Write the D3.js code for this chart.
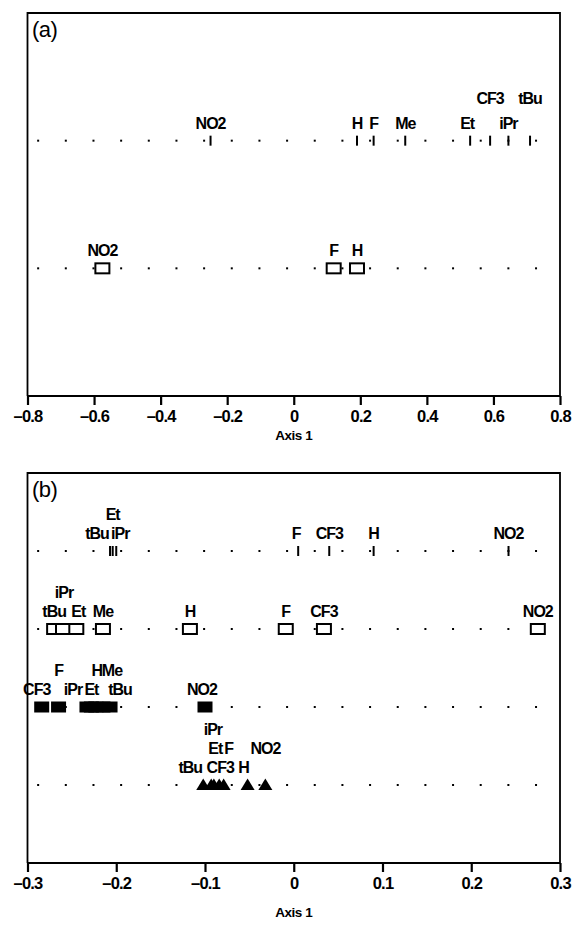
<!DOCTYPE html>
<html><head><meta charset="utf-8">
<script src="https://cdn.jsdelivr.net/npm/d3@7"></script>
<style>
body{margin:0;background:#fff}
svg{display:block}
text{font-family:"Liberation Sans",Arial,sans-serif;fill:#000}
</style></head>
<body><svg id="chart" width="572" height="932"></svg>
<script>
// ---------- DATA ----------
const aTicks = [-0.8,-0.6,-0.4,-0.2,0,0.2,0.4,0.6,0.8];
const aTickLabels = ["\u20130.8","\u20130.6","\u20130.4","\u20130.2","0","0.2","0.4","0.6","0.8"];
const bTicks = [-0.3,-0.2,-0.1,0,0.1,0.2,0.3];
const bTickLabels = ["\u20130.3","\u20130.2","\u20130.1","0","0.1","0.2","0.3"];

// panel (a)
const aRow1Names  = ["NO2","H","F","Me","Et","CF3","iPr","tBu"];
const aRow1Values = [-0.25,0.19,0.24,0.335,0.53,0.59,0.645,0.71];
const aRow2Names  = ["NO2","F","H"];
const aRow2Values = [-0.575,0.12,0.19];

// panel (b)
const bRow1Names  = ["tBu","Et","iPr","F","CF3","H","NO2"];
const bRow1Values = [-0.207,-0.204,-0.200,0.005,0.040,0.090,0.242];
const bRow2Names  = ["tBu","iPr","Et","Me","H","F","CF3","NO2"];
const bRow2Values = [-0.270,-0.260,-0.245,-0.215,-0.117,-0.009,0.034,0.275];
const bRow3Names  = ["CF3","F","iPr","Et","H","Me","tBu","NO2"];
const bRow3Values = [-0.284,-0.265,-0.233,-0.228,-0.223,-0.215,-0.207,-0.100];
const bRow4Names  = ["tBu","Et","iPr","CF3","F","H","NO2"];
const bRow4Values = [-0.102,-0.093,-0.090,-0.084,-0.079,-0.052,-0.032];

// ---------- LAYOUT (label stacking level, horizontal nudge in px) ----------
const labelPlacement = {
  a1:{CF3:[1,0], tBu:[1,0], Et:[0,-3]},
  a2:{},
  b1:{tBu:[0,-13], Et:[1,0], iPr:[0,4], F:[0,-2]},
  b2:{iPr:[1,1], Et:[0,2]},
  b3:{CF3:[0,-5], F:[1,0], iPr:[0,-14], Et:[0,0], H:[1,1], Me:[1,9], tBu:[0,10], NO2:[0,-3]},
  b4:{tBu:[0,-13], Et:[1,4], iPr:[2,-1], CF3:[0,1], F:[1,5], H:[0,-4], NO2:[1,0]}
};

const panels = [
  {tag:"(a)", top:13, bottom:396, domain:[-0.8,0.8], ticks:aTicks, tickLabels:aTickLabels, levelGap:25, axisTitleGap:44,
   rows:[{key:"a1", names:aRow1Names, values:aRow1Values, marker:"tick"},
         {key:"a2", names:aRow2Names, values:aRow2Values, marker:"openBox"}]},
  {tag:"(b)", top:473, bottom:863, domain:[-0.3,0.3], ticks:bTicks, tickLabels:bTickLabels, levelGap:19, axisTitleGap:54,
   rows:[{key:"b1", names:bRow1Names, values:bRow1Values, marker:"tick"},
         {key:"b2", names:bRow2Names, values:bRow2Values, marker:"openBox"},
         {key:"b3", names:bRow3Names, values:bRow3Values, marker:"filledBox"},
         {key:"b4", names:bRow4Names, values:bRow4Values, marker:"triangle"}]}
];

const svg = d3.select("#chart");
svg.append("rect").attr("width",572).attr("height",932).attr("fill","#fff");
const left = 27.5, right = 560;

panels.forEach(p => {
  const g = svg.append("g");
  const x = d3.scaleLinear().domain(p.domain).range([left, right]);
  const y = d3.scalePoint().domain(d3.range(p.rows.length)).range([p.top, p.bottom]).padding(1);

  // frame
  g.append("path")
    .attr("d", `M${left},${p.bottom} L${left},${p.top} L${right},${p.top} L${right},${p.bottom}`)
    .attr("fill","none").attr("stroke","#000").attr("stroke-width",1.8);

  // axis
  const axis = d3.axisBottom(x).tickValues(p.ticks)
    .tickFormat((d,i) => p.tickLabels[i]).tickSize(9).tickPadding(5);
  const ax = g.append("g").attr("transform",`translate(0,${p.bottom})`).call(axis);
  ax.select(".domain").attr("stroke-width",2.2).attr("d",`M${left},0H${right}`);
  ax.selectAll(".tick line").attr("stroke-width",2.2);
  ax.selectAll(".tick text").attr("font-size",16.5).attr("font-weight","bold")
    .attr("letter-spacing","-0.8").style("font-family","'Liberation Sans',Arial,sans-serif");

  g.append("text").attr("x",(left+right)/2).attr("y",p.bottom+p.axisTitleGap)
    .attr("text-anchor","middle").attr("font-size",13.5).attr("font-weight","bold")
    .attr("letter-spacing","-0.5").text("Axis 1");

  g.append("text").attr("x",32).attr("y",p.top+24).attr("font-size",22)
    .attr("letter-spacing","-0.5").text(p.tag);

  p.rows.forEach((row, ri) => {
    const cy = y(ri);
    // dotted guide line
    const d0 = left + 0.02*(right-left), d1 = left + 0.955*(right-left);
    const dots = d3.range(19).map(i => d0 + i*(d1-d0)/18);
    g.selectAll(null).data(dots).enter().append("rect")
      .attr("x", d => d-1).attr("y", cy-1).attr("width",2).attr("height",2).attr("fill","#000");

    const data = row.names.map((n,i) => ({name:n, value:row.values[i]}));
    const m = g.selectAll(null).data(data).enter();
    if (row.marker === "tick") {
      m.append("line").attr("x1",d=>x(d.value)).attr("x2",d=>x(d.value))
        .attr("y1",cy-5).attr("y2",cy+5).attr("stroke","#000").attr("stroke-width",2);
    } else if (row.marker === "openBox") {
      m.append("rect").attr("x",d=>x(d.value)-7).attr("y",cy-5).attr("width",14).attr("height",10)
        .attr("fill","#fff").attr("stroke","#000").attr("stroke-width",2);
    } else if (row.marker === "filledBox") {
      m.append("rect").attr("x",d=>x(d.value)-7.5).attr("y",cy-5.5).attr("width",15).attr("height",11)
        .attr("fill","#000");
    } else if (row.marker === "triangle") {
      m.append("path").attr("d",d=>{const cx=x(d.value);return `M${cx-7},${cy+5}L${cx},${cy-6.5}L${cx+7},${cy+5}Z`;})
        .attr("fill","#000");
    }
    const place = labelPlacement[row.key] || {};
    m.append("text")
      .attr("x", d => x(d.value) + ((place[d.name]||[0,0])[1]))
      .attr("y", d => cy - 12 - ((place[d.name]||[0,0])[0])*p.levelGap)
      .attr("text-anchor","middle").attr("font-size",16).attr("font-weight","bold")
      .attr("letter-spacing","-1").text(d => d.name);
  });
});
</script></body></html>
